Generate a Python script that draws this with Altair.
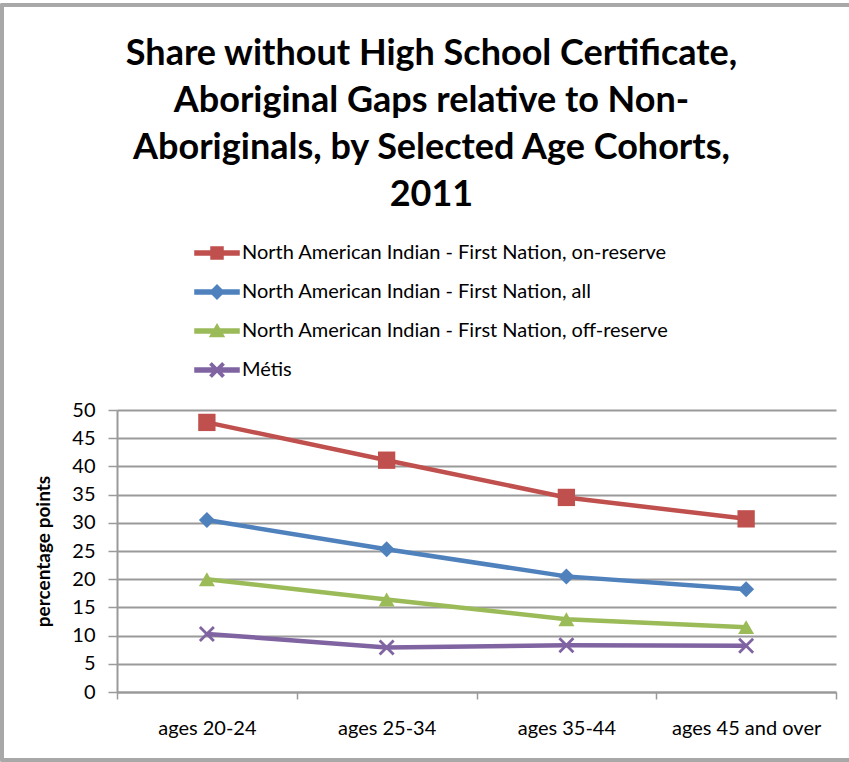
import altair as alt
import pandas as pd

ages = ["ages 20-24", "ages 25-34", "ages 35-44", "ages 45 and over"]
series_names = [
    "North American Indian - First Nation, on-reserve",
    "North American Indian - First Nation, all",
    "North American Indian - First Nation, off-reserve",
    "Métis",
]
on_reserve = [47.8, 41.1, 34.5, 30.7]
fn_all = [30.5, 25.3, 20.5, 18.2]
off_reserve = [20.0, 16.4, 12.9, 11.5]
metis = [10.3, 7.9, 8.3, 8.2]
y_ticks = [0, 5, 10, 15, 20, 25, 30, 35, 40, 45, 50]
colors = ["#C0504D", "#4F81BD", "#9BBB59", "#8064A2"]
title_lines = [
    "Share without High School Certificate,",
    "Aboriginal Gaps relative to Non-",
    "Aboriginals, by Selected Age Cohorts,",
    "2011",
]

rows = []
for name, vals in zip(series_names, [on_reserve, fn_all, off_reserve, metis]):
    for a, v in zip(ages, vals):
        rows.append({"age": a, "series": name, "value": v})
df = pd.DataFrame(rows)

X_PATH = ("M-0.86,-1.14L1.14,0.86L0.86,1.14L-1.14,-0.86Z "
          "M-0.86,1.14L-1.14,0.86L0.86,-1.14L1.14,-0.86Z")
point_shapes = ["square", "diamond", "triangle-up", X_PATH]
point_sizes = [300, 256, 256, 196]

BAR = "M-3.67,-0.33H3.67V0.33H-3.67Z "
legend_paths = [
    BAR + "M-1,-1H1V1H-1Z",
    BAR + "M-1.15,0L0,-1.15L1.15,0L0,1.15Z",
    BAR + "M0,-1.1L1.15,0.9L-1.15,0.9Z",
    BAR + X_PATH,
]

FONT = "Lato"
GRID = "#9a9a9a"

color_scale = alt.Scale(domain=series_names, range=colors)

x_enc = alt.X(
    "age:N",
    sort=ages,
    scale=alt.Scale(type="band", domain=ages, paddingInner=0, paddingOuter=0),
    axis=alt.Axis(
        title=None, labelAngle=0, tickBand="extent", ticks=True, tickSize=7,
        tickColor=GRID, tickWidth=1.5, domainColor=GRID, domainWidth=2,
        labelFont=FONT, labelFontSize=20,
        labelColor="#000000", labelPadding=19, grid=False,
    ),
)
y_enc = alt.Y(
    "value:Q",
    scale=alt.Scale(domain=[0, 50], nice=False),
    axis=alt.Axis(
        title="percentage points", values=y_ticks, tickSize=9, tickColor=GRID,
        tickWidth=1.5, domainColor=GRID, domainWidth=2,
        gridColor=GRID, gridWidth=2, labelFont=FONT,
        labelFontSize=20, labelColor="#000000", labelPadding=13,
        titleFont=FONT, titleFontSize=19, titleFontWeight="bold",
        titleColor="#000000", titlePadding=18,
    ),
)

leg = alt.Legend(
    title=None, orient="none", legendX=90, legendY=-167, labelFont=FONT,
    labelFontSize=20, labelColor="#000000", symbolSize=144,
    labelOffset=15, rowPadding=19, padding=0, labelLimit=600,
    direction="vertical",
)

# invisible points that only carry the legend (line + marker glyphs)
legend_layer = alt.Chart(df).mark_point(filled=True, size=0, opacity=1).encode(
    x=x_enc, y=y_enc,
    fill=alt.Fill("series:N", scale=alt.Scale(domain=series_names, range=colors), legend=leg),
    shape=alt.Shape("series:N", scale=alt.Scale(domain=series_names, range=legend_paths), legend=leg),
)

# outer chart frame (decoration)
frame = alt.Chart(df).mark_rect(
    fill=None, stroke="#a8a8a8", strokeWidth=2.5, clip=False
).encode(
    x=alt.value(-115), x2=alt.value(770), y=alt.value(-405), y2=alt.value(350)
)

lines = alt.Chart(df).mark_line(strokeWidth=4.5).encode(
    x=x_enc, y=y_enc, color=alt.Color("series:N", scale=color_scale, legend=None)
)

layers = [frame, legend_layer, lines]
for name, shp, sz in zip(series_names, point_shapes, point_sizes):
    layers.append(
        alt.Chart(df)
        .transform_filter(alt.datum.series == name)
        .mark_point(shape=shp, filled=True, size=sz, opacity=1)
        .encode(x=x_enc, y=y_enc,
                color=alt.Color("series:N", scale=color_scale, legend=None))
    )

chart = (
    alt.layer(*layers)
    .properties(
        width=719, height=282,
        autosize=alt.AutoSizeParams(type="none"),
        padding={"left": 117, "top": 410, "right": 13, "bottom": 70},
        title=alt.TitleParams(
            text=title_lines, font=FONT, fontSize=36, fontWeight="bold",
            lineHeight=47, anchor="middle", dx=-45, dy=238, color="#000000",
            offset=28,
        ),
    )
    .configure_view(stroke=None)
)

chart.save("out.html", embed_options={"renderer": "svg", "actions": False})
